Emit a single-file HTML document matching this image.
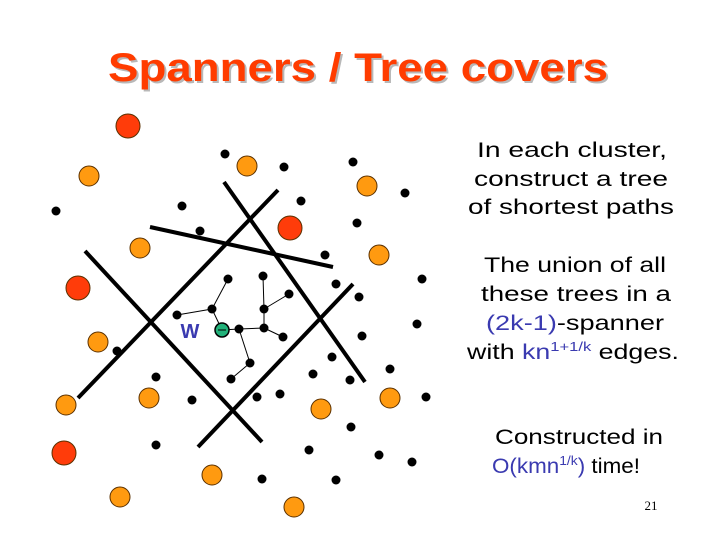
<!DOCTYPE html>
<html><head><meta charset="utf-8"><style>html,body{margin:0;padding:0;background:#fff}svg{display:block}</style></head>
<body>
<svg width="720" height="540" viewBox="0 0 720 540" xmlns="http://www.w3.org/2000/svg">
<text x="358" y="81" text-anchor="middle" font-family="Liberation Sans, sans-serif" font-weight="bold" font-size="40" fill="#b8b8b8" textLength="500" lengthAdjust="spacingAndGlyphs" transform="translate(2,2)">Spanners / Tree covers</text>
<text x="358" y="81" text-anchor="middle" font-family="Liberation Sans, sans-serif" font-weight="bold" font-size="40" fill="#ff3c00" textLength="500" lengthAdjust="spacingAndGlyphs">Spanners / Tree covers</text>
<g stroke="#000" stroke-width="4" stroke-linecap="butt">
<line x1="150" y1="227" x2="333" y2="267"/>
<line x1="224" y1="182" x2="365" y2="382"/>
<line x1="278" y1="190" x2="78" y2="398"/>
<line x1="85" y1="251" x2="262" y2="442"/>
<line x1="353" y1="284" x2="198" y2="447"/>
</g>
<g stroke="#000" stroke-width="1" fill="none">
<polyline points="222,330 239,329 264,328 264,309 263,276"/>
<line x1="264" y1="309" x2="289" y2="294"/>
<line x1="264" y1="328" x2="283" y2="337"/>
<polyline points="239,329 250,363 231,379"/>
<polyline points="222,330 212,309 228,279"/>
<line x1="212" y1="309" x2="177" y2="315"/>
</g>
<g fill="#000">
<circle cx="225" cy="154" r="4.5"/><circle cx="284" cy="167" r="4.5"/><circle cx="353" cy="162" r="4.5"/><circle cx="405" cy="193" r="4.5"/><circle cx="56" cy="211" r="4.5"/><circle cx="182" cy="206" r="4.5"/><circle cx="301" cy="201" r="4.5"/><circle cx="357" cy="223" r="4.5"/><circle cx="200" cy="231" r="4.5"/><circle cx="325" cy="255" r="4.5"/><circle cx="422" cy="279" r="4.5"/><circle cx="228" cy="279" r="4.5"/><circle cx="263" cy="276" r="4.5"/><circle cx="336" cy="284" r="4.5"/><circle cx="359" cy="297" r="4.5"/><circle cx="289" cy="294" r="4.5"/><circle cx="264" cy="309" r="4.5"/><circle cx="212" cy="309" r="4.5"/><circle cx="177" cy="315" r="4.5"/><circle cx="239" cy="329" r="4.5"/><circle cx="264" cy="328" r="4.5"/><circle cx="283" cy="337" r="4.5"/><circle cx="417" cy="324" r="4.5"/><circle cx="362" cy="336" r="4.5"/><circle cx="117" cy="351" r="4.5"/><circle cx="250" cy="363" r="4.5"/><circle cx="332" cy="357" r="4.5"/><circle cx="231" cy="379" r="4.5"/><circle cx="156" cy="377" r="4.5"/><circle cx="313" cy="374" r="4.5"/><circle cx="350" cy="380" r="4.5"/><circle cx="390" cy="369" r="4.5"/><circle cx="192" cy="400" r="4.5"/><circle cx="257" cy="397" r="4.5"/><circle cx="280" cy="394" r="4.5"/><circle cx="426" cy="397" r="4.5"/><circle cx="351" cy="427" r="4.5"/><circle cx="156" cy="445" r="4.5"/><circle cx="309" cy="450" r="4.5"/><circle cx="379" cy="455" r="4.5"/><circle cx="412" cy="462" r="4.5"/><circle cx="262" cy="479" r="4.5"/><circle cx="336" cy="480" r="4.5"/>
</g>
<g stroke="#5a3000" stroke-width="1">
<g fill="#ff9a10">
<circle cx="89" cy="176" r="10"/><circle cx="247" cy="166" r="10"/><circle cx="367" cy="186" r="10"/><circle cx="140" cy="248" r="10"/><circle cx="379" cy="255" r="10"/><circle cx="98" cy="342" r="10"/><circle cx="66" cy="405" r="10"/><circle cx="149" cy="398" r="10"/><circle cx="321" cy="409" r="10"/><circle cx="390" cy="398" r="10"/><circle cx="212" cy="475" r="10"/><circle cx="120" cy="497" r="10"/><circle cx="294" cy="507" r="10"/>
</g>
<g fill="#ff3c0a">
<circle cx="128" cy="126" r="12"/><circle cx="290" cy="228" r="12"/><circle cx="78" cy="288" r="12"/><circle cx="64" cy="453" r="12"/>
</g>
</g>
<circle cx="222" cy="330" r="7" fill="#22b27a" stroke="#000" stroke-width="1.5"/>
<line x1="218" y1="330" x2="226" y2="330" stroke="#000" stroke-width="1"/>
<text x="190" y="338" text-anchor="middle" font-family="Liberation Sans, sans-serif" font-weight="bold" font-size="20" fill="#3a3ab0">W</text>
<g font-family="Liberation Sans, sans-serif" font-size="21" text-anchor="middle" fill="#000">
<text x="572" y="157" textLength="190" lengthAdjust="spacingAndGlyphs">In each cluster,</text>
<text x="571" y="186" textLength="194" lengthAdjust="spacingAndGlyphs">construct a tree</text>
<text x="571" y="214" textLength="206" lengthAdjust="spacingAndGlyphs">of shortest paths</text>
<text x="575" y="272" textLength="182" lengthAdjust="spacingAndGlyphs">The union of all</text>
<text x="576" y="301" textLength="190" lengthAdjust="spacingAndGlyphs">these trees in a</text>
<text x="575" y="330" textLength="178" lengthAdjust="spacingAndGlyphs"><tspan fill="#3a3ab0">(2k-1)</tspan>-spanner</text>
<text x="573" y="359" textLength="212" lengthAdjust="spacingAndGlyphs">with <tspan fill="#3a3ab0">kn<tspan font-size="13" dy="-8">1+1/k</tspan></tspan><tspan dy="8"> edges.</tspan></text>
<text x="579" y="444" textLength="168" lengthAdjust="spacingAndGlyphs">Constructed in</text>
<text x="566" y="473" textLength="148" lengthAdjust="spacingAndGlyphs"><tspan fill="#3a3ab0">O(kmn<tspan font-size="13" dy="-8">1/k</tspan><tspan dy="8">)</tspan></tspan> time!</text>
</g>
<text x="651" y="510" text-anchor="middle" font-family="Liberation Serif, serif" font-size="13" fill="#000">21</text>
</svg>
</body></html>
